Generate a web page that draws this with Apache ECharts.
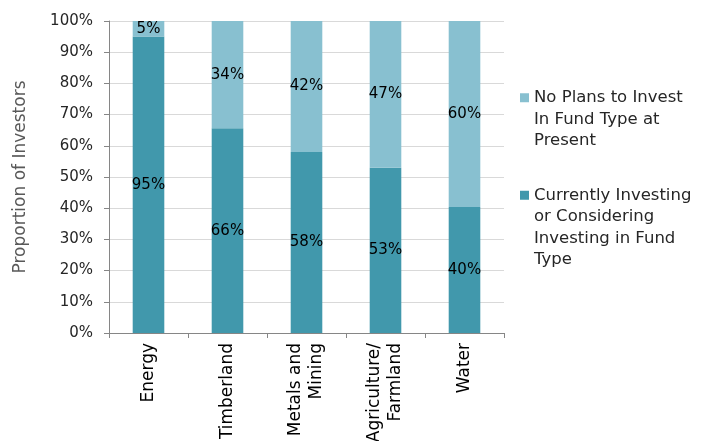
<!DOCTYPE html>
<html>
<head>
<meta charset="utf-8">
<script src="https://cdn.jsdelivr.net/npm/echarts@6/dist/echarts.min.js"></script>
<style>html,body{margin:0;padding:0;background:#fff}#c{width:704px;height:441px}</style>
</head>
<body>
<div id="c"></div>
<script>
const categories = ['Energy', 'Timberland', 'Metals and\nMining', 'Agriculture/\nFarmland', 'Water'];
const currentlyInvesting = [95, 65.6, 58, 53, 40.4];
const noPlans = [5, 34.4, 42, 47, 59.6];
const yTicks = [0, 10, 20, 30, 40, 50, 60, 70, 80, 90, 100];
const seriesNames = ['Currently Investing\nor Considering\nInvesting in Fund\nType', 'No Plans to Invest\nIn Fund Type at\nPresent'];

const FONT = 'DejaVu Sans';
const chart = echarts.init(document.getElementById('c'));
function pad(name){ const n = name.split('\n').length; return '\n'.repeat(n-1) + name; }
const labelStyle = {
  show: true, position: 'inside', color: '#000', fontFamily: FONT, fontSize: 15,
  formatter: p => Math.round(p.value) + '%'
};
const legendText = { fontFamily: FONT, fontSize: 16.5, color: '#262626', lineHeight: 21.5 };
chart.setOption({
  animation: false,
  textStyle: { fontFamily: FONT },
  grid: { left: 109, right: 200, top: 21, bottom: 108, containLabel: false, outerBoundsMode: 'none' },
  legend: [
    { data: [seriesNames[1]], left: 520, top: 44, orient: 'vertical', padding: 0,
      icon: 'rect', itemWidth: 9, itemHeight: 9, itemGap: 4,
      formatter: pad, textStyle: legendText },
    { data: [seriesNames[0]], left: 520, top: 120, orient: 'vertical', padding: 0,
      icon: 'rect', itemWidth: 9, itemHeight: 9, itemGap: 4,
      formatter: pad, textStyle: legendText }
  ],
  xAxis: {
    type: 'category', data: categories,
    axisLine: { lineStyle: { color: '#868686' } },
    axisTick: { show: true, length: 5, lineStyle: { color: '#868686' } },
    axisLabel: { rotate: 90, color: '#000', fontFamily: FONT, fontSize: 17, lineHeight: 21, margin: 10 }
  },
  yAxis: {
    type: 'value', min: yTicks[0], max: yTicks[yTicks.length-1], interval: 10,
    name: 'Proportion of Investors', nameLocation: 'middle', nameGap: 80,
    nameTextStyle: { color: '#595959', fontFamily: FONT, fontSize: 17 },
    axisLine: { show: true, lineStyle: { color: '#868686' } },
    axisTick: { show: true, length: 5, lineStyle: { color: '#868686' } },
    axisLabel: { formatter: v => v + '%', color: '#262626', fontFamily: FONT, fontSize: 15, margin: 16 },
    splitLine: { lineStyle: { color: '#d9d9d9' } }
  },
  series: [
    { name: seriesNames[0], type: 'bar', stack: 'a', data: currentlyInvesting, barWidth: '40%',
      itemStyle: { color: '#4198AC' }, label: labelStyle },
    { name: seriesNames[1], type: 'bar', stack: 'a', data: noPlans, barWidth: '40%',
      itemStyle: { color: '#88C0D0' }, label: labelStyle }
  ]
});
</script>
</body>
</html>
